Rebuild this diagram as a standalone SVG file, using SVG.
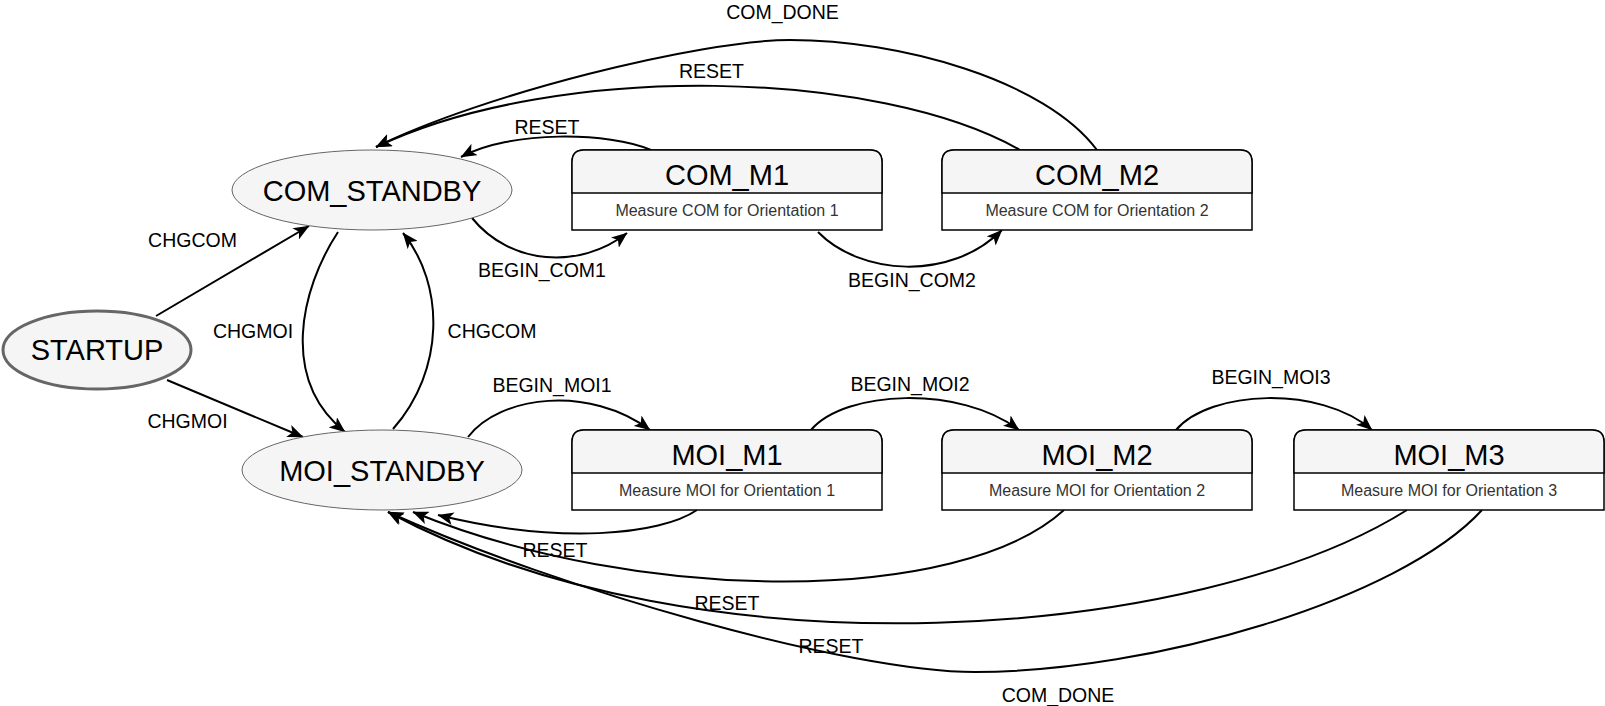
<svg xmlns="http://www.w3.org/2000/svg" width="1605" height="706" viewBox="0 0 1605 706">
<defs>
<style>
.ell{fill:#f5f5f5;stroke:#666666;stroke-width:1}
.start{fill:#f5f5f5;stroke:#666666;stroke-width:3}
.body{fill:#ffffff;stroke:#000000;stroke-width:1.5}
.hdr{fill:#f5f5f5;stroke:#000000;stroke-width:1.5}
.big{font-family:"Liberation Sans",Arial,Helvetica,sans-serif;font-size:29px;fill:#000000;text-anchor:middle}
.sub{font-family:"Liberation Sans",Arial,Helvetica,sans-serif;font-size:16px;fill:#333333;text-anchor:middle}
.lbl{font-family:"Liberation Sans",Arial,Helvetica,sans-serif;font-size:19.5px;fill:#000000;text-anchor:middle}
.edge{fill:none;stroke:#000000;stroke-width:2;marker-end:url(#arr)}
</style>
<marker id="arr" markerUnits="userSpaceOnUse" viewBox="0 0 16 13" refX="15.5" refY="6.5" markerWidth="16" markerHeight="13" orient="auto">
<path d="M0,0 L16,6.5 L0,13 L4,6.5 Z" fill="#000000"/>
</marker>
</defs>
<rect width="1605" height="706" fill="#ffffff"/>

<g id="connectors">
<path class="edge" d="M156,316 L309,226"/>
<path class="edge" d="M167,380 L303,437"/>
<path class="edge" d="M338,232 C300,290 280,380 345,432"/>
<path class="edge" d="M393,429 C445,370 445,285 403,233"/>
<path class="edge" d="M472,218 C510,265 580,270 627,233"/>
<path class="edge" d="M818,232 C860,275 950,282 1002,230"/>
<path class="edge" d="M651,150 C610,132 510,130 461,157"/>
<path class="edge" d="M1020,150 C880,70 560,60 376,147"/>
<path class="edge" d="M1097,150 C1045,80 900,40 790,40 C700,40 480,95 376,147"/>
<path class="edge" d="M468,437 C500,395 590,385 650,430"/>
<path class="edge" d="M811,430 C845,390 960,385 1019,430"/>
<path class="edge" d="M1176,430 C1210,390 1320,385 1372,430"/>
<path class="edge" d="M697,510 C660,535 560,545 438,515"/>
<path class="edge" d="M1064,510 C960,605 640,605 413,512"/>
<path class="edge" d="M1407,510 C1200,640 700,680 388,512"/>
<path class="edge" d="M1482,510 C1400,600 1150,672 975,672 C850,672 560,590 388,512"/>
<text class="lbl" x="192.5" y="247">CHGCOM</text>
<text class="lbl" x="187.5" y="428">CHGMOI</text>
<text class="lbl" x="253" y="338">CHGMOI</text>
<text class="lbl" x="492" y="338">CHGCOM</text>
<text class="lbl" x="542" y="277">BEGIN_COM1</text>
<text class="lbl" x="912" y="287">BEGIN_COM2</text>
<text class="lbl" x="547" y="134">RESET</text>
<text class="lbl" x="711.5" y="78">RESET</text>
<text class="lbl" x="782.5" y="19">COM_DONE</text>
<text class="lbl" x="552" y="392">BEGIN_MOI1</text>
<text class="lbl" x="910" y="391">BEGIN_MOI2</text>
<text class="lbl" x="1271" y="384">BEGIN_MOI3</text>
<text class="lbl" x="555" y="557">RESET</text>
<text class="lbl" x="727" y="610">RESET</text>
<text class="lbl" x="831" y="653">RESET</text>
<text class="lbl" x="1058" y="702">COM_DONE</text>
</g>

<g id="STARTUP">
<ellipse class="start" cx="97" cy="350" rx="94" ry="39"/>
<text class="big" x="97" y="360">STARTUP</text>
</g>
<g id="COM_STANDBY">
<ellipse class="ell" cx="372" cy="190" rx="140" ry="40"/>
<text class="big" x="372" y="201">COM_STANDBY</text>
</g>
<g id="MOI_STANDBY">
<ellipse class="ell" cx="382" cy="470" rx="140" ry="40"/>
<text class="big" x="382" y="481">MOI_STANDBY</text>
</g>

<g id="COM_M1" transform="translate(572,150)">
<path class="body" d="M0,12 Q0,0 12,0 H298 Q310,0 310,12 V80 H0 Z"/>
<path class="hdr" d="M0,43 V12 Q0,0 12,0 H298 Q310,0 310,12 V43 Z"/>
<text class="big" x="155" y="35">COM_M1</text>
<text class="sub" x="155" y="66">Measure COM for Orientation 1</text>
</g>
<g id="COM_M2" transform="translate(942,150)">
<path class="body" d="M0,12 Q0,0 12,0 H298 Q310,0 310,12 V80 H0 Z"/>
<path class="hdr" d="M0,43 V12 Q0,0 12,0 H298 Q310,0 310,12 V43 Z"/>
<text class="big" x="155" y="35">COM_M2</text>
<text class="sub" x="155" y="66">Measure COM for Orientation 2</text>
</g>
<g id="MOI_M1" transform="translate(572,430)">
<path class="body" d="M0,12 Q0,0 12,0 H298 Q310,0 310,12 V80 H0 Z"/>
<path class="hdr" d="M0,43 V12 Q0,0 12,0 H298 Q310,0 310,12 V43 Z"/>
<text class="big" x="155" y="35">MOI_M1</text>
<text class="sub" x="155" y="66">Measure MOI for Orientation 1</text>
</g>
<g id="MOI_M2" transform="translate(942,430)">
<path class="body" d="M0,12 Q0,0 12,0 H298 Q310,0 310,12 V80 H0 Z"/>
<path class="hdr" d="M0,43 V12 Q0,0 12,0 H298 Q310,0 310,12 V43 Z"/>
<text class="big" x="155" y="35">MOI_M2</text>
<text class="sub" x="155" y="66">Measure MOI for Orientation 2</text>
</g>
<g id="MOI_M3" transform="translate(1294,430)">
<path class="body" d="M0,12 Q0,0 12,0 H298 Q310,0 310,12 V80 H0 Z"/>
<path class="hdr" d="M0,43 V12 Q0,0 12,0 H298 Q310,0 310,12 V43 Z"/>
<text class="big" x="155" y="35">MOI_M3</text>
<text class="sub" x="155" y="66">Measure MOI for Orientation 3</text>
</g>
</svg>
